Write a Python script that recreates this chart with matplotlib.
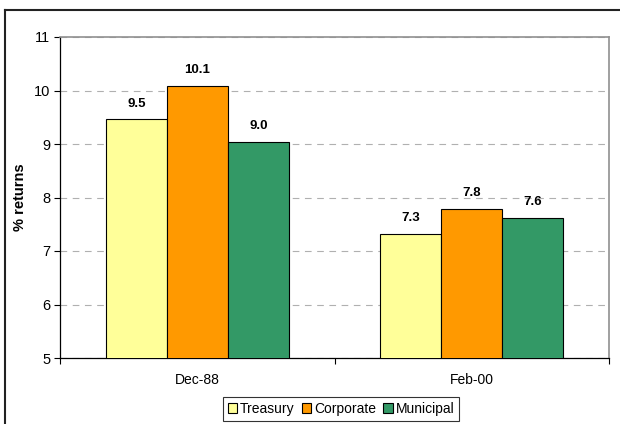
import matplotlib.pyplot as plt
import numpy as np
from matplotlib.lines import Line2D

plt.rcParams['font.family'] = ['Liberation Sans', 'DejaVu Sans']

categories = ['Dec-88', 'Feb-00']
series = ['Treasury', 'Corporate', 'Municipal']
treasury = [9.46, 7.32]
corporate = [10.09, 7.79]
municipal = [9.04, 7.62]
colors = ['#FFFF99', '#FF9900', '#339966']

fig = plt.figure(figsize=(6.2, 4.24), dpi=100)
ax = fig.add_axes([60 / 620, 66 / 424, 549 / 620, 321 / 424])

x = np.arange(len(categories))
width = 1 / 4.5
for i, (name, vals, c) in enumerate(zip(series, [treasury, corporate, municipal], colors)):
    bars = ax.bar(x + (i - 1) * width, vals, width, color=c, edgecolor='black',
                  linewidth=0.8, label=name, zorder=3)
    ax.bar_label(bars, fmt='%.1f', padding=7, fontsize=9.5, fontweight='bold')

ax.set_xlim(-0.5, 1.5)
ax.set_ylim(5, 11)
ax.set_yticks(range(5, 12))
ax.yaxis.grid(True, color='#b0b0b0', linestyle=(0, (6, 5)), linewidth=0.8, zorder=0)
ax.set_xticks(x)
ax.set_xticklabels(categories)
ax.set_xticks([-0.5, 0.5, 1.5], minor=True)
ax.tick_params(axis='x', which='major', length=0, pad=11, labelsize=10)
ax.tick_params(axis='x', which='minor', length=4, width=0.8)
ax.tick_params(axis='y', length=4, width=0.8, labelsize=10.5, pad=3)
ax.set_ylabel('% returns', fontsize=10.5, fontweight='bold', labelpad=5)

for s in ['left', 'bottom']:
    ax.spines[s].set_color('black')
    ax.spines[s].set_linewidth(0.9)
for s in ['top', 'right']:
    ax.spines[s].set_color('#909090')
    ax.spines[s].set_linewidth(1.2)

leg = ax.legend(loc='center', bbox_to_anchor=(341 / 620, 15 / 424),
                bbox_transform=fig.transFigure, ncol=3, fontsize=10,
                frameon=True, fancybox=False, edgecolor='black',
                handlelength=0.7, handleheight=0.7, handletextpad=0.2,
                columnspacing=0.5, borderpad=0.35)
leg.get_frame().set_linewidth(0.8)

# outer chart frame (top and left edges visible)
fig.add_artist(Line2D([5 / 620, 1], [1 - 10 / 424, 1 - 10 / 424],
                      transform=fig.transFigure, color='#222222', linewidth=1.5))
fig.add_artist(Line2D([5 / 620, 5 / 620], [0, 1 - 10 / 424],
                      transform=fig.transFigure, color='#222222', linewidth=1.5))

plt.savefig('out.png', dpi=100)
